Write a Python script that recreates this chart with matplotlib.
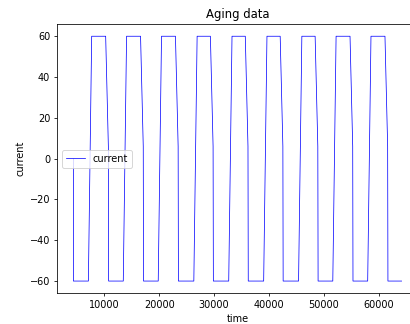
import numpy as np
import matplotlib
matplotlib.use('Agg')
from matplotlib import pyplot as plt

# cycle breakpoints (time) for each charge / discharge cycle
rise_start = [7090, 13450, 19820, 26310, 32670, 39040, 45400, 51640, 58000]
rise_end = [7690, 14050, 20420, 26910, 33270, 39640, 46000, 52240, 58600]
cc_end = [10240, 16600, 22960, 29330, 35690, 42050, 48420, 54780, 61150]
knee = [10730, 17090, 23450, 29820, 36180, 42540, 48910, 55270, 61640]
fall_end = [10780, 17140, 23500, 29870, 36230, 42590, 48960, 55320, 61690]

i_high = 60
i_low = -60
i_knee = 6
t_start = 4360
t_stop = 64180

# build the current trace
time = [t_start, t_start]
current = [0, i_low]
for k in range(len(rise_start)):
    time += [rise_start[k], rise_end[k], cc_end[k], knee[k], fall_end[k]]
    current += [i_low, i_high, i_high, i_knee, i_low]
time.append(t_stop)
current.append(i_low)

fig = plt.figure(figsize=(411 / 70, 324 / 70), dpi=70)
ax = fig.add_axes([57 / 411, 30.7 / 324, 361 / 411, 269.3 / 324])
ax.plot(time, current, color='blue', linewidth=0.75, label='current')
ax.set_title('Aging data')
ax.set_xlabel('time')
ax.set_ylabel('current')
ax.legend(loc='center left')
fig.savefig('out.png', dpi=70)
